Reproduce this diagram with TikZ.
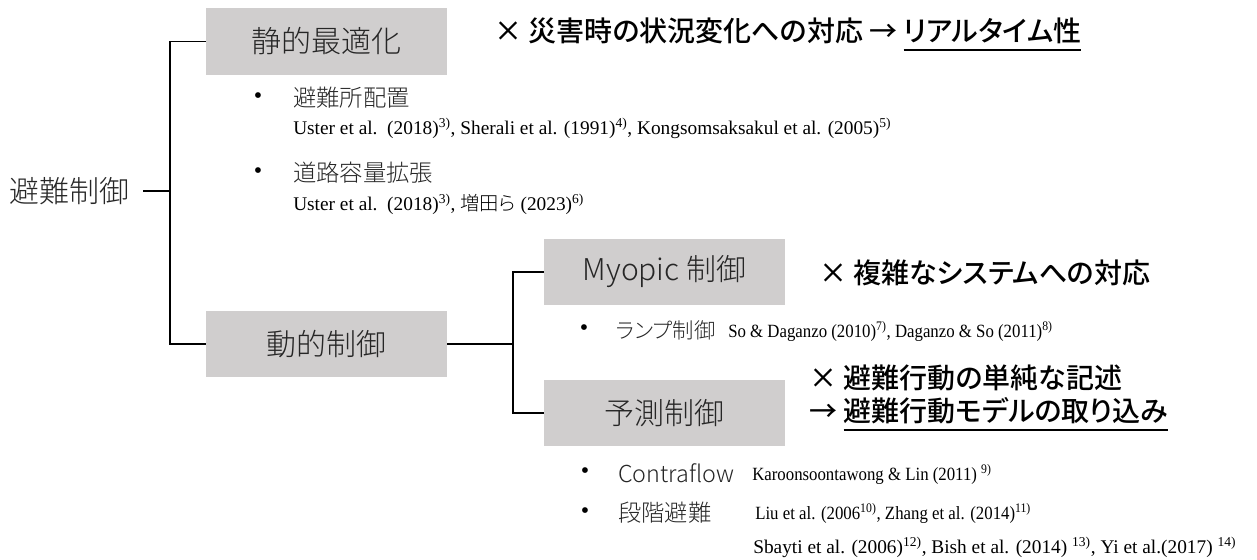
\documentclass[tikz,border=0pt]{standalone}
\usepackage{fontspec}
\setmainfont{Liberation Serif}
\newfontfamily\jpl{Noto Sans CJK JP Light}[RawFeature=+palt]
\newfontfamily\jpb{Noto Sans CJK JP Medium}[RawFeature=+palt]
\newfontfamily\condserif{Liberation Serif}[FakeStretch=0.9]
\definecolor{boxgray}{HTML}{D0CECE}
\definecolor{txtdark}{HTML}{262626}
\newcommand\ulx[1]{\setbox0=\hbox{#1}\rlap{\rule[-0.34em]{\wd0}{0.07em}}\box0}
\begin{document}
\begin{tikzpicture}[x=0.75pt,y=-0.75pt,
  box/.style={fill=boxgray, minimum width=180.75pt, minimum height=49.5pt, inner sep=0pt, text=txtdark, font=\jpl\fontsize{22.5pt}{27pt}\selectfont},
  rootlabel/.style={inner sep=0pt, inner xsep=9.75pt, text=txtdark, font=\jpl\fontsize{22.5pt}{27pt}\selectfont},
  conn/.style={line width=1.1pt},
  bul/.style={inner sep=0pt, font=\fontsize{18pt}{20pt}\selectfont},
  itemtext/.style={anchor=west, inner sep=0pt, text=txtdark, font=\jpl\fontsize{17.5pt}{20pt}\selectfont},
  citetext/.style={anchor=west, inner sep=0pt, font=\fontsize{14.5pt}{17pt}\selectfont},
  citesmall/.style={anchor=west, inner sep=0pt, font=\condserif\fontsize{14pt}{16pt}\selectfont},
  note/.style={anchor=west, inner sep=0pt, font=\jpb\fontsize{21pt}{25pt}\selectfont}]
\useasboundingbox (0,0) rectangle (1257,560);

% boxes
\node[box, minimum height=50.25pt] (sbox) at (326.5,41.5) {静的最適化};
\node[box] (dbox) at (326.5,344) {動的制御};
\node[box] (mbox) at (664.5,272) {Myopic 制御};
\node[box] (ybox) at (664.5,413) {予測制御};
\node[rootlabel, anchor=east] (root) at (143,191) {避難制御};

% connectors
\coordinate (j1) at (170,191);
\coordinate (j2) at (513,344);
\draw[conn] (root.east) -- (j1);
\draw[conn] (sbox.west) -| (j1) |- (dbox.west);
\draw[conn] (dbox.east) -- (j2);
\draw[conn] (mbox.west) -| (j2) |- (ybox.west);

% notes
\node[note] (n1) at (494,34) {× 災害時の状況変化への対応 → \ulx{リアルタイム性}};
\node[note] (n2) at (819,273) {× 複雑なシステムへの対応};
\node[note] (n3) at (809,378) {× 避難行動の単純な記述};
\node[note] (n4) at (809,414) {→ \ulx{避難行動モデルの取り込み}};

% static items
\node[bul] (b1) at (258,98) {\textbullet};
\node[itemtext] (i1) at (293,98) {避難所配置};
\node[citetext] (c1) at (293,128) {Uster et al.\ \ (2018)\textsuperscript{3)}, Sherali et al. (1991)\textsuperscript{4)}, Kongsomsaksakul et al. (2005)\textsuperscript{5)}};
\node[bul] (b2) at (258,173) {\textbullet};
\node[itemtext] (i2) at (293,173) {道路容量拡張};
\node[citetext] (c2) at (293,204) {Uster et al.\ \ (2018)\textsuperscript{3)}, {\jpl 増田ら} (2023)\textsuperscript{6)}};

% myopic items
\node[bul] (b3) at (584,330) {\textbullet};
\node[itemtext, font=\jpl\fontsize{16pt}{19pt}\selectfont] (i3) at (616,330) {ランプ制御};
\node[citesmall] (c3) at (728,331) {So \& Daganzo (2010)\textsuperscript{7)}, Daganzo \& So (2011)\textsuperscript{8)}};

% predictive items
\node[bul] (b4) at (585,473) {\textbullet};
\node[itemtext] (i4) at (618,473) {Contraflow};
\node[citesmall] (c4) at (752,474) {Karoonsoontawong \& Lin (2011) \textsuperscript{9)}};
\node[bul] (b5) at (585,513) {\textbullet};
\node[itemtext] (i5) at (618,513) {段階避難};
\node[citesmall] (c5) at (755,513) {Liu et al. (2006\textsuperscript{10)}, Zhang et al. (2014)\textsuperscript{11)}};
\node[citetext] (c6) at (753,547) {Sbayti et al. (2006)\textsuperscript{12)}, Bish et al. (2014) \textsuperscript{13)}, Yi et al.(2017) \textsuperscript{14)}};
\end{tikzpicture}
\end{document}
